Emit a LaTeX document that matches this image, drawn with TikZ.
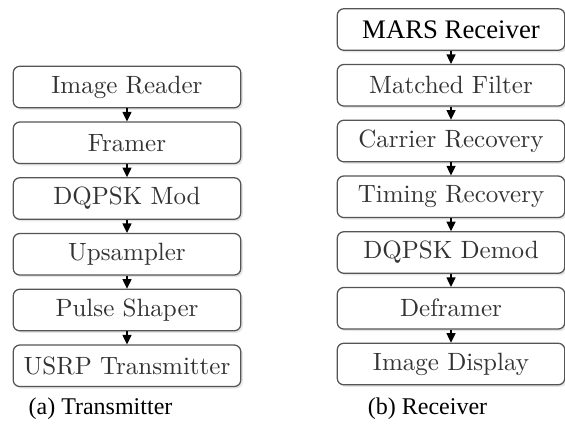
\documentclass[tikz,border=0pt]{standalone}
\usepackage{fontspec}
\newfontfamily\capfont{Liberation Serif}
\usepackage{tikz}
\usetikzlibrary{positioning, arrows.meta, shadows}

\definecolor{boxline}{HTML}{555555}
\definecolor{boxtext}{HTML}{333333}

\begin{document}
\begin{tikzpicture}[
        x=0.4pt, y=-0.4pt,
        >={Triangle[width=3.6pt,length=3.8pt]},
        block/.style={draw=boxline, fill=white, rounded corners=2.6pt, line width=0.5pt,
            minimum width=91pt, minimum height=16.6pt, inner sep=0pt,
            text=boxtext, font=\normalsize,
            drop shadow={shadow xshift=0.8pt, shadow yshift=-0.8pt, opacity=0.2}},
        link/.style={->, black, line width=0.5pt},
        caption/.style={font=\capfont\fontsize{9.6}{11}\selectfont, text=black},
        node distance=5.2pt
    ]

    \useasboundingbox (0,0) rectangle (565,436);

    % --- Transmitter chain ---
    \node[block] (reader) at (127,87) {Image Reader};
    \node[block, below=of reader] (framer) {Framer};
    \node[block, below=of framer] (mod) {DQPSK Mod};
    \node[block, below=of mod] (upsamp) {Upsampler};
    \node[block, below=of upsamp] (shaper) {Pulse Shaper};
    \node[block, below=of shaper] (usrptx) {USRP Transmitter};

    % --- Receiver chain ---
    \node[block, text=black, font=\capfont\fontsize{10.7}{12}\selectfont] (mars) at (451,29.5) {MARS Receiver};
    \node[block, below=of mars] (matched) {Matched Filter};
    \node[block, below=of matched] (carrier) {Carrier Recovery};
    \node[block, below=of carrier] (timing) {Timing Recovery};
    \node[block, below=of timing] (demod) {DQPSK Demod};
    \node[block, below=of demod] (deframer) {Deframer};
    \node[block, below=of deframer] (display) {Image Display};

    % --- Arrows between blocks ---
    \foreach \a/\b in {reader/framer, framer/mod, mod/upsamp, upsamp/shaper, shaper/usrptx,
        mars/matched, matched/carrier, carrier/timing, timing/demod, demod/deframer, deframer/display}
        \draw[link] (\a.south) -- (\b.north);

    % --- Captions ---
    \node[caption] (capa) at (100.5,409) {(a) Transmitter};
    \node[caption] (capb) at (427.5,409) {(b) Receiver};

\end{tikzpicture}
\end{document}
